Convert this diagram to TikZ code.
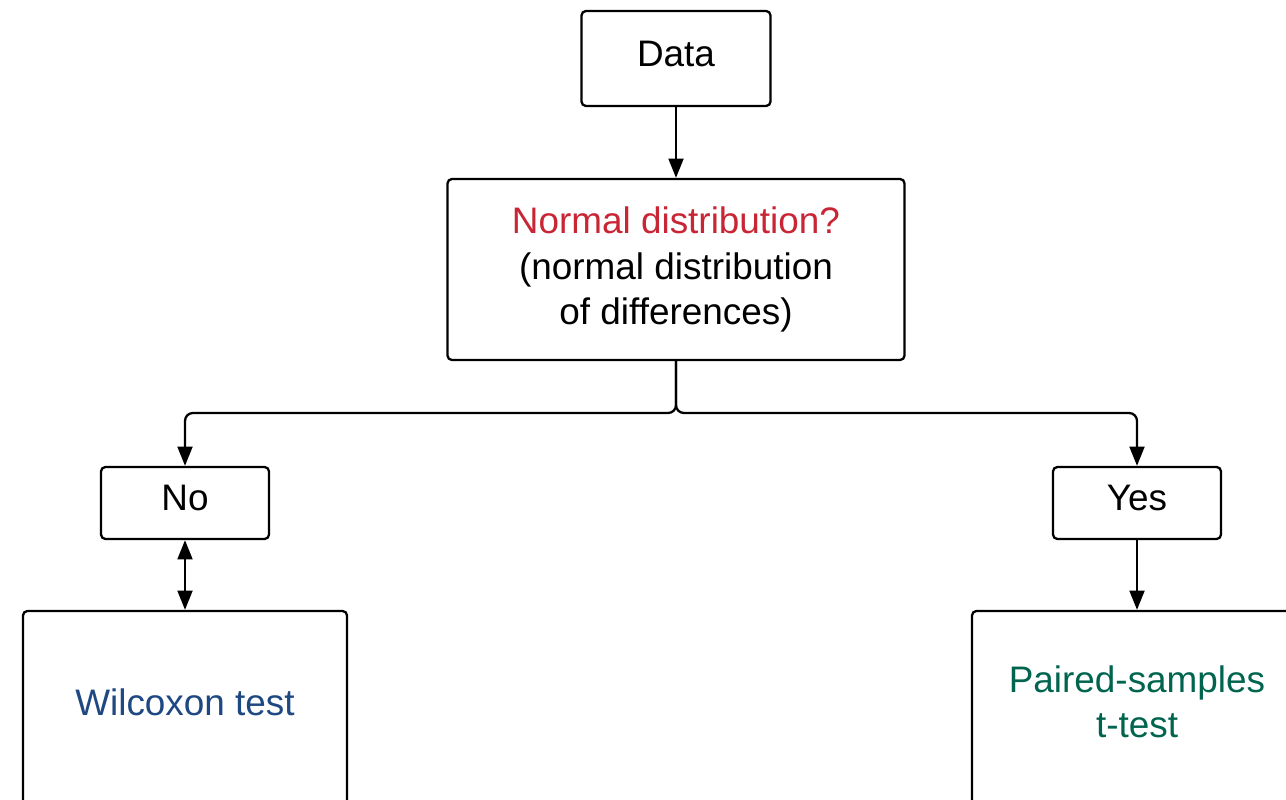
\documentclass[tikz,border=0pt]{standalone}
\usepackage{fontspec}
\setmainfont{Liberation Sans}
\usetikzlibrary{arrows.meta}
\definecolor{qred}{RGB}{200,38,52}
\definecolor{qblue}{RGB}{30,72,130}
\definecolor{qgreen}{RGB}{0,100,78}
\tikzset{
  box/.style={draw, line width=1.3pt, rounded corners=2.5pt, align=center,
    inner sep=0pt, font=\fontsize{21}{25.8}\selectfont},
  link/.style={line width=1.3pt, rounded corners=4.5pt},
  tip/.style={-{Stealth[length=11pt,width=8.5pt,inset=0pt]}}
}
\begin{document}
\begin{tikzpicture}
	\clip (0,0) rectangle (25.72,-16);
	\def\midx{13.52}
	\node[box, minimum width=3.78cm, minimum height=1.9cm, text depth=0.2cm] (D) at (\midx,-1.17) {Data};
	\node[box, minimum width=9.14cm, minimum height=3.62cm] (N) at (\midx,-5.39)
		{\textcolor{qred}{Normal distribution?}\\(normal distribution\\of differences)};
	\node[box, minimum width=3.36cm, minimum height=1.44cm, text depth=0.2cm] (No) at (3.7,-10.06) {No};
	\node[box, minimum width=3.36cm, minimum height=1.44cm, text depth=0.2cm] (Yes) at (22.74,-10.06) {Yes};
	\node[box, minimum width=6.48cm, minimum height=4.38cm] (W) at (3.7,-14.41) {};
	\node[box, minimum width=6.6cm, minimum height=4.38cm] (P) at (22.74,-14.41) {};
	\node[font=\fontsize{21}{25.8}\selectfont, text=qblue] (Wt) at (3.7,-14.04) {Wilcoxon test};
	\node[font=\fontsize{21}{25.8}\selectfont, text=qgreen, align=center] (Pt) at (22.74,-14.04) {Paired-samples\\t-test};
	
	\coordinate (S) at (\midx,-8.26);
	\draw[link, tip] (D) -- (N);
	\draw[link, tip] (N.south) -- (S) -| (No.north);
	\draw[link, tip] (N.south) -- (S) -| (Yes.north);
	\draw[link, {Stealth[length=11pt,width=8.5pt,inset=0pt]}-{Stealth[length=11pt,width=8.5pt,inset=0pt]}] (No) -- (W);
	\draw[link, tip] (Yes) -- (P);
\end{tikzpicture}
\end{document}
